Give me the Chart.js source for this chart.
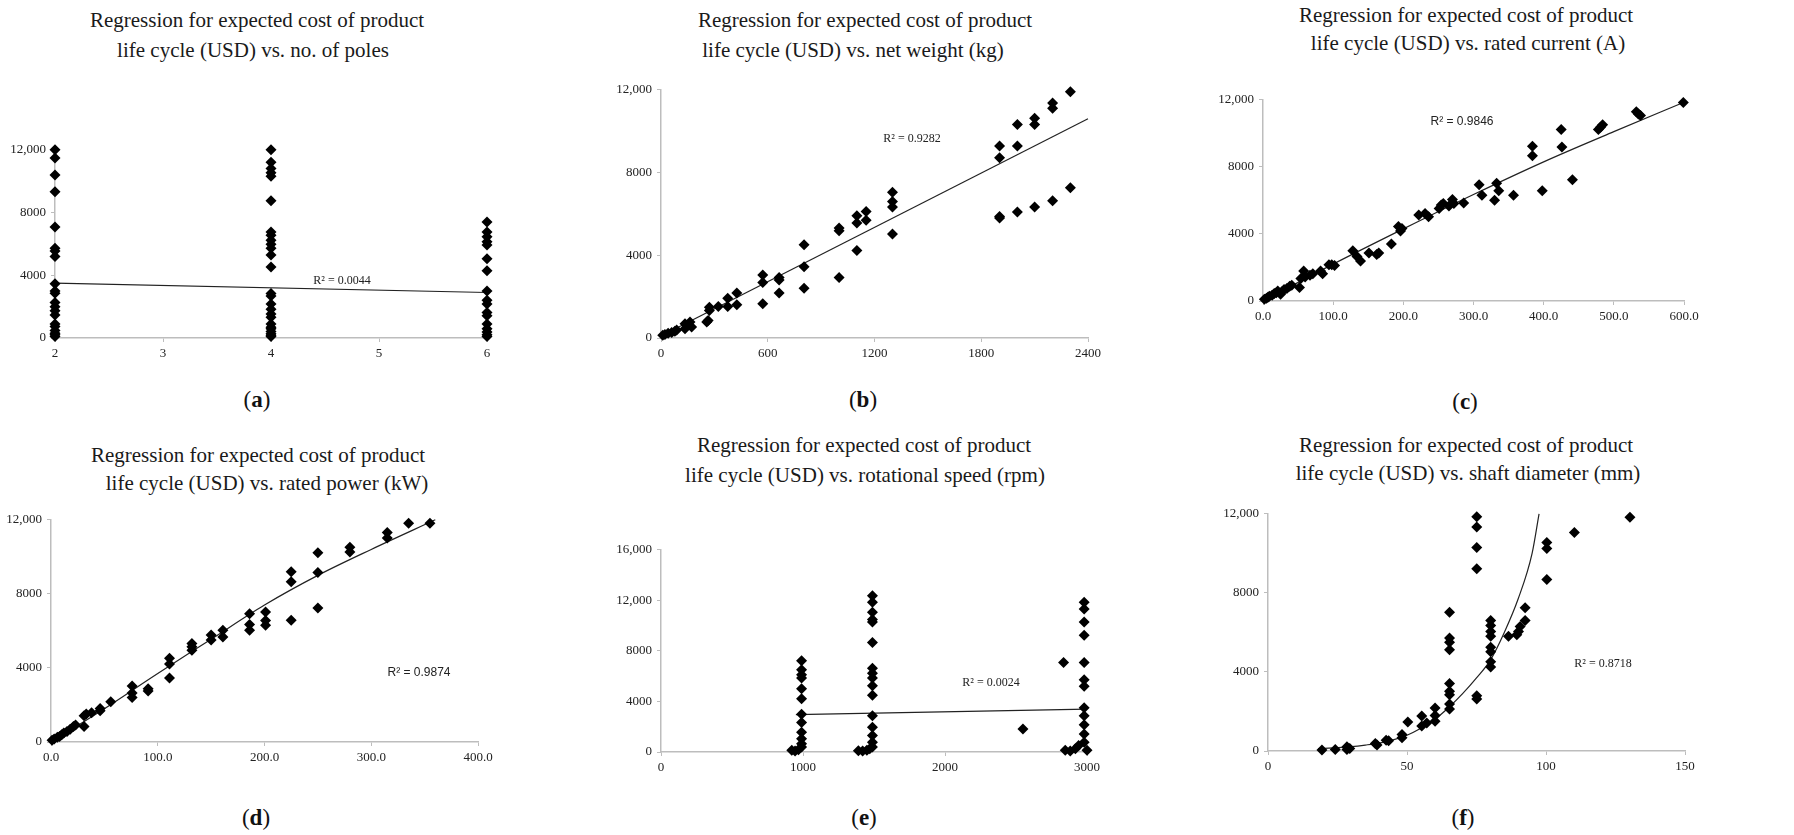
<!DOCTYPE html>
<html>
<head>
<meta charset="utf-8">
<script src="https://cdn.jsdelivr.net/npm/chart.js@4.4.1/dist/chart.umd.min.js"></script>
<style>
  body { margin: 0; background: #fff; }
  #page { position: relative; width: 1794px; height: 835px; overflow: hidden; background: #fff; }
  canvas { position: absolute; }
  .title { position: absolute; font-family: "Liberation Serif", serif; font-size: 21px; color: #1a1a1a; white-space: nowrap; transform: translate(-50%, -50%); line-height: 1; }
  .cap { position: absolute; font-family: "Liberation Serif", serif; font-size: 23px; color: #111; transform: translate(-50%, -50%); }
  .cap b { font-weight: bold; }
  .r2 { position: absolute; font-size: 12px; color: #222; white-space: nowrap; transform: translate(-50%, -50%); }
  .serif { font-family: "Liberation Serif", serif; }
  .sans { font-family: "Liberation Sans", sans-serif; }
</style>
</head>
<body>
<div id="page"></div>
<script>
// ---- data ----

// (a) no. of poles
const polesX = [2, 4, 6];
const poles2Cost = [12000, 11480, 10390, 9320, 7080, 5720, 5550, 5190, 3460, 3000, 2850, 2260, 1990, 1740, 1470, 900, 730, 480, 310, 210, 100];
const poles4Cost = [12000, 11200, 10800, 10530, 10320, 8750, 6760, 6550, 6240, 5970, 5720, 5300, 4520, 2830, 2680, 2160, 1840, 1530, 1320, 900, 690, 590, 420, 270, 170, 100];
const poles6Cost = [7390, 6760, 6450, 6140, 5930, 5050, 4290, 3000, 2410, 2160, 1630, 1420, 900, 590, 380, 210, 100];
const trendPoles = [[2, 3500], [6, 2900]];

// (b) net weight (kg)
const weightPts = [
  [10, 130], [22, 170], [40, 230], [60, 270], [78, 330], [88, 390], [135, 690], [135, 450], [163, 770], [172, 530],
  [257, 770], [265, 850], [272, 1490], [272, 1330], [322, 1520], [375, 1920], [375, 1520], [426, 2170], [426, 1610],
  [572, 3050], [572, 2680], [572, 1650], [664, 2920], [664, 2800], [664, 2170], [804, 4510], [804, 3450], [804, 2410],
  [1001, 5320], [1001, 5190], [1001, 2920], [1101, 5910], [1101, 5560], [1101, 4230], [1153, 6120], [1153, 5690],
  [1301, 7050], [1301, 6600], [1301, 6330], [1301, 5030], [1903, 9280], [1903, 8720], [1903, 5880], [1903, 5800],
  [2003, 10320], [2003, 9280], [2003, 6090], [2100, 10630], [2100, 10320], [2100, 6330],
  [2201, 11360], [2201, 11110], [2201, 6630], [2301, 11900], [2301, 7270]
];
const trendWeight = [[0, 100], [2400, 10600]];

// (c) rated current (A)
const currentPts = [
  [2, 100], [5, 160], [7, 220], [9, 290], [13, 350], [16, 450], [19, 490], [21, 590], [25, 410], [27, 550], [30, 690],
  [34, 750], [38, 880], [41, 940], [52, 800], [54, 1340], [58, 1790], [60, 1430], [67, 1530], [71, 1630], [82, 1790],
  [85, 1630], [94, 2160], [98, 2160], [102, 2120], [128, 3000], [134, 2650], [139, 2380], [151, 2870], [162, 2770],
  [165, 2870], [183, 3400], [193, 4440], [196, 4180], [198, 4320], [222, 5130], [231, 5220], [236, 5030], [251, 5520],
  [254, 5720], [257, 5810], [265, 5660], [270, 6050], [272, 5810], [286, 5850], [308, 6930], [312, 6300], [330, 6010],
  [333, 7030], [336, 6580], [357, 6300], [384, 9230], [384, 8660], [398, 6580], [425, 10230], [426, 9190], [441, 7230],
  [478, 10230], [481, 10370], [484, 10510], [532, 11290], [535, 11150], [538, 11060], [599, 11840]
];
const trendCurrent = [[0, 0], [100, 2200], [200, 4300], [300, 6350], [400, 8300], [500, 10100], [600, 11850]];

// (d) rated power (kW)
const powerPts = [
  [1, 90], [3, 160], [6, 250], [8, 300], [10, 390], [12, 480], [15, 570], [18, 690], [21, 840], [23, 920], [31, 840],
  [31, 1420], [33, 1510], [38, 1580], [46, 1690], [46, 1810], [56, 2170], [76, 3020], [76, 2650], [76, 2400], [91, 2880],
  [91, 2760], [111, 4520], [111, 4210], [111, 3450], [132, 5320], [132, 5140], [132, 4960], [150, 5780], [150, 5510],
  [161, 6040], [161, 5670], [186, 6930], [186, 6350], [186, 6040], [201, 7020], [201, 6560], [201, 6310], [225, 9190],
  [225, 8660], [225, 6580], [250, 10220], [250, 9160], [250, 7240], [280, 10520], [280, 10260], [315, 11320],
  [315, 11020], [335, 11820], [355, 11820]
];
const trendPower = [[0, 0], [50, 1800], [100, 3700], [150, 5550], [200, 7400], [250, 9000], [300, 10400], [360, 12000]];

// (e) rotational speed (rpm)
const speedPts = [
  [921, 130], [944, 80], [968, 180], [990, 7230], [990, 6500], [990, 6110], [990, 5850], [990, 5000], [990, 4210],
  [990, 2990], [990, 2340], [990, 1560], [990, 1040], [990, 650], [990, 390],
  [1390, 100], [1420, 80], [1450, 130], [1470, 260], [1489, 12360], [1489, 11840], [1489, 11060], [1489, 10480],
  [1489, 10280], [1489, 8660], [1489, 6630], [1489, 6240], [1489, 5850], [1489, 5250], [1489, 4500], [1489, 2860],
  [1489, 1950], [1489, 1300], [1489, 780], [1489, 390],
  [2549, 1820], [2835, 7080], [2847, 130], [2882, 80], [2918, 260], [2941, 520],
  [2980, 11840], [2980, 11320], [2980, 10280], [2980, 9240], [2980, 7080], [2980, 5720], [2980, 5200], [2980, 3510],
  [2980, 2860], [2980, 2160], [2980, 1430], [2980, 780], [3000, 130]
];
const trendSpeed = [[950, 2950], [3000, 3400]];

// (f) shaft diameter (mm)
const shaftPts = [
  [19.4, 50], [24.2, 80], [28.4, 220], [28.4, 80], [29.4, 130], [38.6, 380], [39.2, 300], [42.5, 550], [43.4, 520],
  [48.2, 830], [48.2, 670], [50.3, 1470], [55.3, 1770], [55.3, 1270], [57.1, 1420], [60.1, 2180], [60.1, 1800],
  [60.1, 1500], [65.3, 7020], [65.3, 5720], [65.3, 5500], [65.3, 5120], [65.3, 3420], [65.3, 3020], [65.3, 2850],
  [65.3, 2380], [65.3, 2130], [75.1, 11850], [75.1, 11330], [75.1, 10300], [75.1, 9220], [75.1, 2800], [75.1, 2630],
  [80.1, 6600], [80.1, 6350], [80.1, 6050], [80.1, 5800], [80.1, 5250], [80.1, 5020], [80.1, 4520], [80.1, 4250],
  [86.5, 5800], [89.5, 5880], [90.1, 6050], [90.7, 6300], [92.5, 6600], [92.5, 7250], [100.3, 10550], [100.3, 10250],
  [100.3, 8680], [110.2, 11050], [130.2, 11830]
];
const trendShaft = [[18, 120], [25, 170], [30, 220], [35, 300], [40, 400], [45, 560], [50, 800], [55, 1150], [60, 1600],
  [65, 2200], [70, 2900], [75, 3700], [80, 4600], [85, 6000], [90, 7700], [95, 10000], [97.5, 12000]];

// tick labels
const ticksPoles = [2, 3, 4, 5, 6];
const ticksWeight = [0, 600, 1200, 1800, 2400];
const ticksCurrent = [0, 100, 200, 300, 400, 500, 600];
const ticksPower = [0, 100, 200, 300, 400];
const ticksSpeed = [0, 1000, 2000, 3000];
const ticksShaft = [0, 50, 100, 150];
const ticksCost12 = [0, 4000, 8000, 12000];
const ticksCost16 = [0, 4000, 8000, 12000, 16000];

const titleLine1 = 'Regression for expected cost of product';
const panels = [
  { id: 'a', line2: 'life cycle (USD) vs. no. of poles', box: [55, 147, 487, 338],
    pts: polesX.flatMap((x, i) => [poles2Cost, poles4Cost, poles6Cost][i].map(y => [x, y])),
    trend: trendPoles, curve: false, xt: ticksPoles, yt: ticksCost12, fmt: v => String(v),
    t1: [257, 20], t2: [253, 50], cap: [257, 400], r2: 'R² = 0.0044', r2pos: [342, 280], r2font: 'serif' },
  { id: 'b', line2: 'life cycle (USD) vs. net weight (kg)', box: [661, 87, 1088, 338],
    pts: weightPts, trend: trendWeight, curve: false, xt: ticksWeight, yt: ticksCost12, fmt: v => String(v),
    t1: [865, 20], t2: [853, 50], cap: [863, 400], r2: 'R² = 0.9282', r2pos: [912, 138], r2font: 'serif' },
  { id: 'c', line2: 'life cycle (USD) vs. rated current (A)', box: [1263, 97, 1684, 301],
    pts: currentPts, trend: trendCurrent, curve: true, xt: ticksCurrent, yt: ticksCost12, fmt: v => v.toFixed(1),
    t1: [1466, 15], t2: [1468, 43], cap: [1465, 402], r2: 'R² = 0.9846', r2pos: [1462, 121], r2font: 'sans' },
  { id: 'd', line2: 'life cycle (USD) vs. rated power (kW)', box: [51, 517, 478, 742],
    pts: powerPts, trend: trendPower, curve: true, xt: ticksPower, yt: ticksCost12, fmt: v => v.toFixed(1),
    t1: [258, 455], t2: [267, 483], cap: [256, 818], r2: 'R² = 0.9874', r2pos: [419, 672], r2font: 'sans' },
  { id: 'e', line2: 'life cycle (USD) vs. rotational speed (rpm)', box: [661, 547, 1087, 752],
    pts: speedPts, trend: trendSpeed, curve: false, xt: ticksSpeed, yt: ticksCost16, fmt: v => String(v),
    t1: [864, 445], t2: [865, 475], cap: [864, 818], r2: 'R² = 0.0024', r2pos: [991, 682], r2font: 'serif' },
  { id: 'f', line2: 'life cycle (USD) vs. shaft diameter (mm)', box: [1268, 511, 1685, 751],
    pts: shaftPts, trend: trendShaft, curve: true, xt: ticksShaft, yt: ticksCost12, fmt: v => String(v),
    t1: [1466, 445], t2: [1468, 473], cap: [1463, 818], r2: 'R² = 0.8718', r2pos: [1603, 663], r2font: 'serif' }
];

const page = document.getElementById('page');
const Y_W = 60, X_H = 34, PAD_T = 10, PAD_R = 24;
const tickFont = { family: 'Liberation Serif', size: 13 };
const axisGray = '#bdbdbd';

function addText(cls, html, pos) {
  const d = document.createElement('div');
  d.className = cls;
  d.innerHTML = html;
  d.style.left = pos[0] + 'px';
  d.style.top = pos[1] + 'px';
  page.appendChild(d);
}

panels.forEach(p => {
  const [L, T, R, B] = p.box;
  const cv = document.createElement('canvas');
  const w = R - L + Y_W + PAD_R, h = B - T + PAD_T + X_H;
  cv.width = w; cv.height = h;
  cv.style.left = (L - Y_W) + 'px';
  cv.style.top = (T - PAD_T) + 'px';
  page.appendChild(cv);

  addText('title', titleLine1, p.t1);
  addText('title', p.line2, p.t2);
  addText('cap', '(<b>' + p.id + '</b>)', p.cap);
  addText('r2 ' + p.r2font, p.r2, p.r2pos);

  new Chart(cv.getContext('2d'), {
    type: 'scatter',
    data: {
      datasets: [
        {
          data: p.pts.map(([x, y]) => ({ x, y })),
          pointStyle: 'rectRot',
          pointRadius: 5.5,
          backgroundColor: '#000',
          borderColor: '#000',
          borderWidth: 0,
          clip: false
        },
        {
          data: p.trend.map(([x, y]) => ({ x, y })),
          showLine: true,
          pointRadius: 0,
          borderColor: '#222',
          borderWidth: 1.2,
          cubicInterpolationMode: p.curve ? 'monotone' : 'default',
          clip: false
        }
      ]
    },
    options: {
      responsive: false,
      animation: false,
      layout: { padding: { top: PAD_T, right: PAD_R, left: 0, bottom: 0 } },
      plugins: { legend: { display: false }, tooltip: { enabled: false } },
      scales: {
        x: {
          type: 'linear',
          min: p.xt[0], max: p.xt[p.xt.length - 1],
          afterBuildTicks: s => { s.ticks = p.xt.map(v => ({ value: v })); },
          afterFit: s => { s.height = X_H; },
          border: { color: axisGray, width: 1.5 },
          grid: { drawOnChartArea: false, drawTicks: true, tickLength: 4, color: axisGray },
          ticks: { font: tickFont, color: '#222', padding: 4, maxRotation: 0, callback: v => p.fmt(v) }
        },
        y: {
          min: p.yt[0], max: p.yt[p.yt.length - 1],
          afterBuildTicks: s => { s.ticks = p.yt.map(v => ({ value: v })); },
          afterFit: s => { s.width = Y_W; },
          border: { color: axisGray, width: 1.5 },
          grid: { drawOnChartArea: false, drawTicks: true, tickLength: 4, color: axisGray },
          ticks: { font: tickFont, color: '#222', padding: 5, callback: v => v >= 10000 ? v.toLocaleString('en-US') : String(v) }
        }
      }
    }
  });
});
</script>
</body>
</html>
